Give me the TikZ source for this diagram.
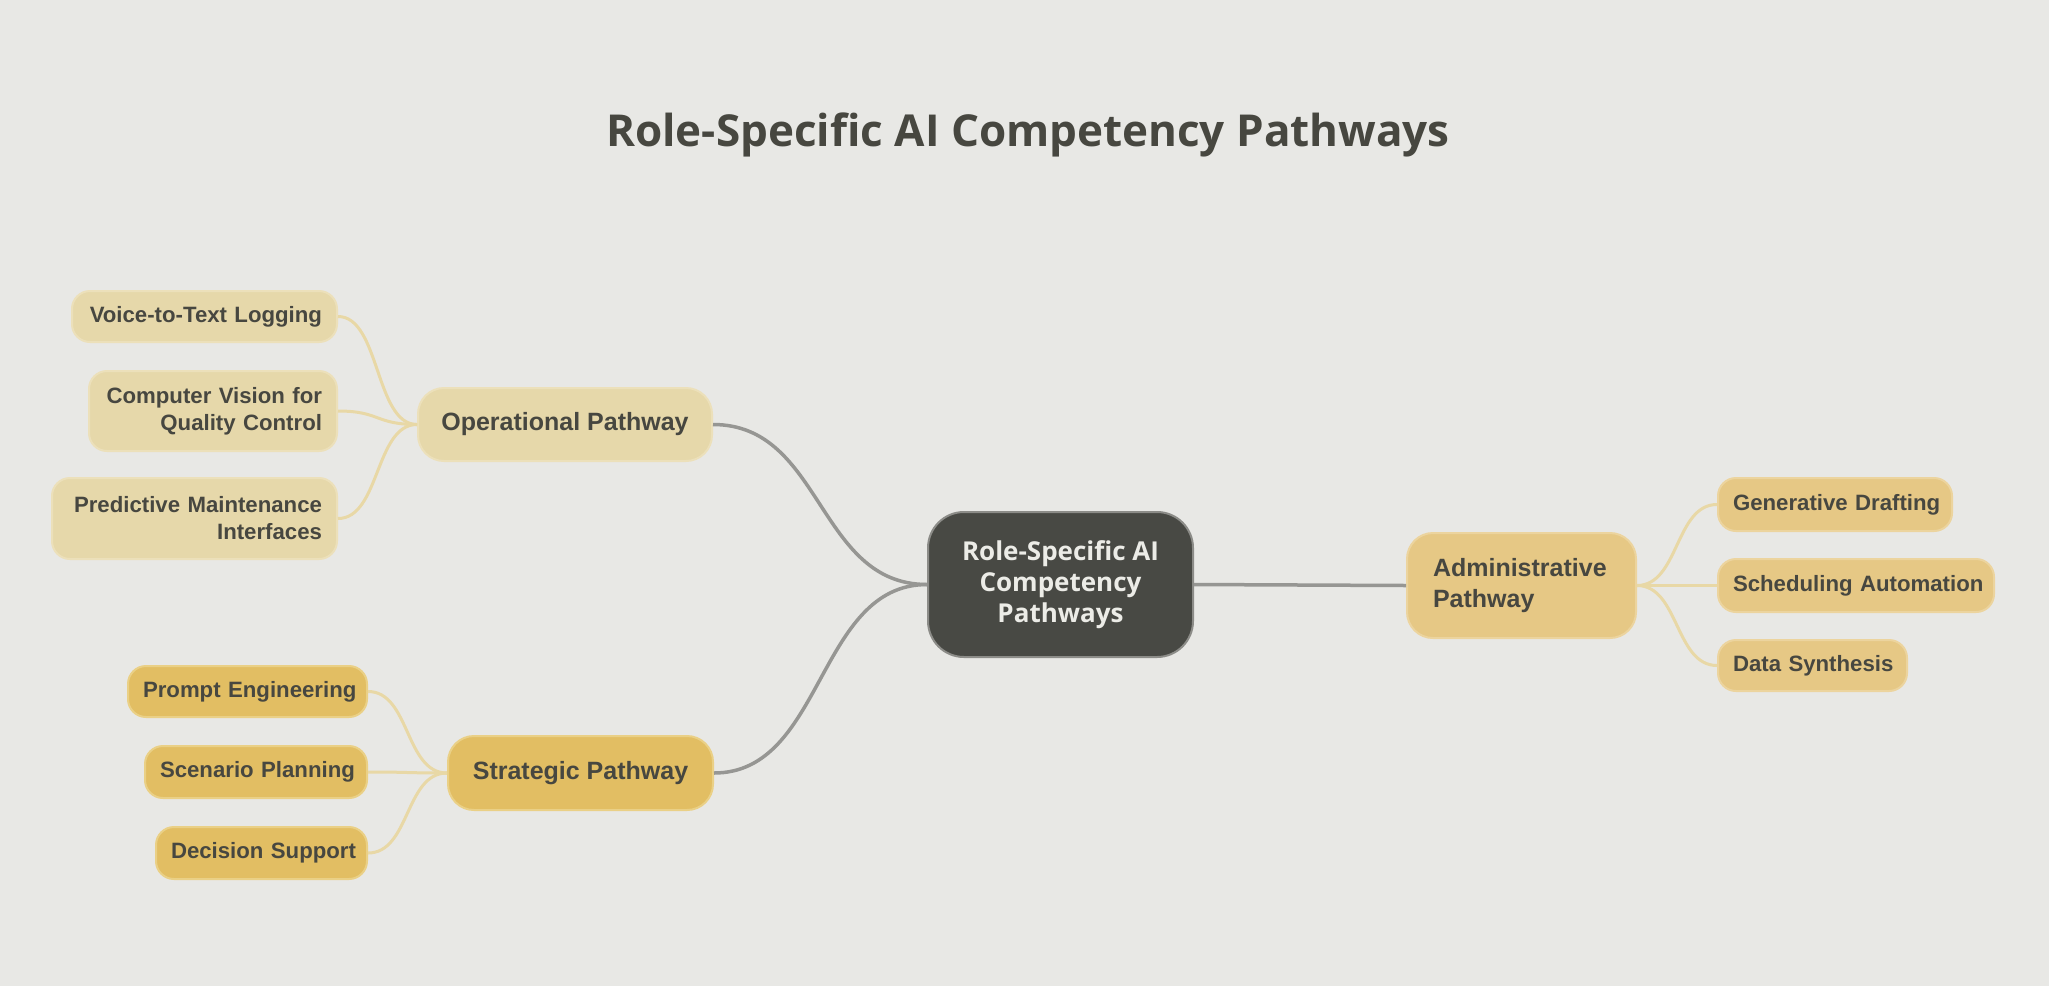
\documentclass[tikz,border=0pt]{standalone}
\usepackage{fontspec}
\setmainfont{Liberation Sans}
\newfontfamily\osans{Open Sans}
\usetikzlibrary{calc}
\definecolor{bg}{RGB}{232,232,229}
\definecolor{txt}{RGB}{71,71,64}
\definecolor{opfill}{RGB}{230,216,170}
\definecolor{opline}{RGB}{236,224,186}
\definecolor{stfill}{RGB}{226,190,99}
\definecolor{stline}{RGB}{234,208,134}
\definecolor{adfill}{RGB}{230,200,133}
\definecolor{adline}{RGB}{236,212,158}
\definecolor{cfill}{RGB}{72,73,68}
\definecolor{cline}{RGB}{140,140,136}
\definecolor{ctxt}{RGB}{236,236,231}
\definecolor{mainedge}{RGB}{150,150,147}
\definecolor{leafedge}{RGB}{232,216,166}
\tikzset{
  box/.style={draw, line width=2pt, text=txt, inner ysep=0pt},
  leaf/.style={box, rounded corners=18pt, inner xsep=15pt,
    font=\bfseries\fontsize{22.2}{27}\selectfont},
  path/.style={box, rounded corners=26pt, inner xsep=20pt,
    font=\bfseries\fontsize{25}{31}\selectfont},
  opbox/.style={fill=opfill, draw=opline},
  stbox/.style={fill=stfill, draw=stline},
  adbox/.style={fill=adfill, draw=adline},
  mainlink/.style={draw=mainedge, line width=3.5pt},
  leaflink/.style={draw=leafedge, line width=3pt},
}
\begin{document}
\begin{tikzpicture}[x=1pt,y=-1pt]
\fill[bg] (0,0) rectangle (2049,986);
\useasboundingbox (0,0) rectangle (2049,986);

\node[text=txt, font=\osans\bfseries\fontsize{44}{50}\selectfont] (title) at (1028,135) {Role-Specific AI Competency Pathways};

% center
\node[draw=cline, fill=cfill, line width=2pt, rounded corners=36pt,
  minimum width=265pt, minimum height=145pt, text=ctxt, align=center,
  font=\osans\bfseries\fontsize{26}{31}\selectfont] (c) at (1060.5,584.5)
  {Role-Specific AI\\Competency\\Pathways};

% pathways
\node[path, opbox, minimum width=294pt, minimum height=73pt] (op) at (565,424.5) {Operational Pathway};
\node[path, stbox, minimum width=265pt, minimum height=74pt] (st) at (580.5,773) {Strategic Pathway};
\node[path, adbox, minimum height=105pt, inner xsep=26pt, text width=177pt, align=left] (ad) at (1521.5,585.5) {Administrative\\Pathway};

% operational leaves
\node[leaf, opbox, minimum height=51pt, text width=235pt, align=right] (voice) at (204.5,316.5) {\mbox{Voice-to-Text Logging}};
\node[leaf, opbox, minimum height=80pt, text width=218pt, align=right] (cv) at (213,411) {\mbox{Computer Vision for}\\\mbox{Quality Control}};
\node[leaf, opbox, minimum height=81pt, text width=255pt, align=right] (pm) at (194.5,518.5) {\mbox{Predictive Maintenance}\\\mbox{Interfaces}};

% strategic leaves
\node[leaf, stbox, minimum height=51pt, text width=209pt, align=right] (pe) at (247.5,691.5) {\mbox{Prompt Engineering}};
\node[leaf, stbox, minimum height=52pt, text width=192pt, align=right] (sp) at (256,772) {\mbox{Scenario Planning}};
\node[leaf, stbox, minimum height=52pt, text width=181pt, align=right] (ds) at (261.5,853) {\mbox{Decision Support}};

% administrative leaves
\node[leaf, adbox, minimum height=53pt, text width=204pt, align=left] (gd) at (1835,504.5) {\mbox{Generative Drafting}};
\node[leaf, adbox, minimum height=53pt, text width=246pt, align=left] (sa) at (1856,585.5) {\mbox{Scheduling Automation}};
\node[leaf, adbox, minimum height=51pt, text width=159pt, align=left] (dsy) at (1812.5,665.5) {\mbox{Data Synthesis}};

% main links
\draw[mainlink] (c.west) .. controls +(-110,0) and +(110,0) .. (op.east);
\draw[mainlink] (c.west) .. controls +(-110,0) and +(110,0) .. (st.east);
\draw[mainlink] (c.east) -- (ad.west);

% leaf links
\foreach \t in {voice,cv,pm}
  \draw[leaflink] (op.west) .. controls +(-42,0) and +(42,0) .. (\t.east);
\foreach \t in {pe,sp,ds}
  \draw[leaflink] (st.west) .. controls +(-42,0) and +(42,0) .. (\t.east);
\foreach \t in {gd,sa,dsy}
  \draw[leaflink] (ad.east) .. controls +(42,0) and +(-42,0) .. (\t.west);
\end{tikzpicture}
\end{document}
